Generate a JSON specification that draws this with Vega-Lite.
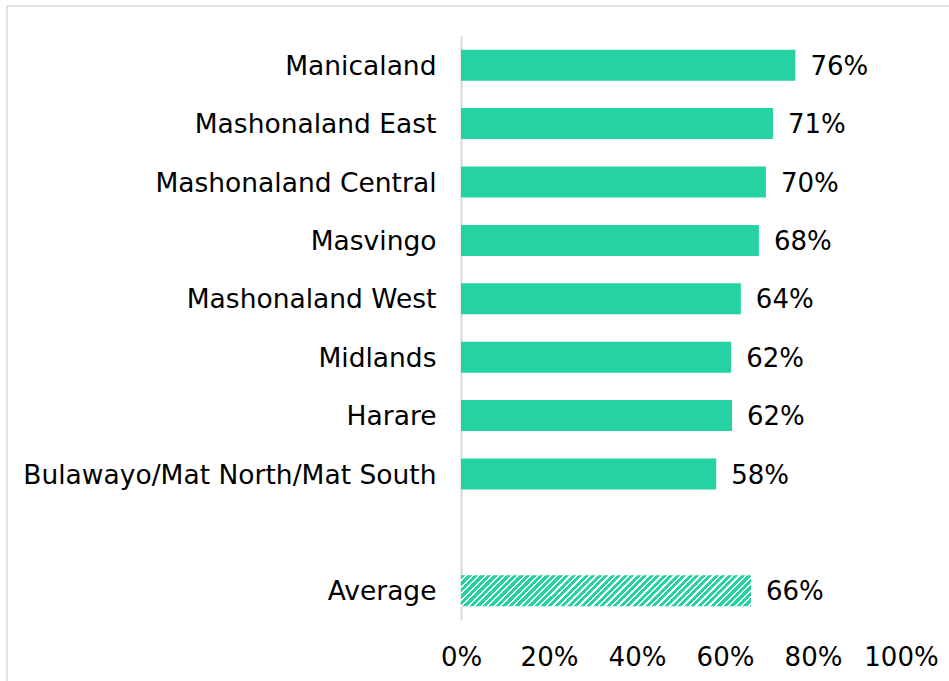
{
  "$schema": "https://vega.github.io/schema/vega-lite/v6.json",
  "width": 944,
  "height": 677,
  "autosize": "none",
  "padding": {"left": 7, "top": 6, "right": -2, "bottom": -2},
  "background": "white",
  "config": {
    "view": {"stroke": "#d9d9d9", "strokeWidth": 1.5},
    "font": "DejaVu Sans"
  },
  "data": {
    "values": [
      {"region": "Manicaland", "value": 0.76, "label": "76%"},
      {"region": "Mashonaland East", "value": 0.709, "label": "71%"},
      {"region": "Mashonaland Central", "value": 0.693, "label": "70%"},
      {"region": "Masvingo", "value": 0.677, "label": "68%"},
      {"region": "Mashonaland West", "value": 0.636, "label": "64%"},
      {"region": "Midlands", "value": 0.614, "label": "62%"},
      {"region": "Harare", "value": 0.616, "label": "62%"},
      {"region": "Bulawayo/Mat North/Mat South", "value": 0.58, "label": "58%"},
      {"region": "Average", "value": 0.659, "label": "66%"}
    ]
  },
  "encoding": {
    "y": {
      "field": "region",
      "type": "nominal",
      "scale": {
        "domain": ["Manicaland", "Mashonaland East", "Mashonaland Central", "Masvingo", "Mashonaland West", "Midlands", "Harare", "Bulawayo/Mat North/Mat South", " ", "Average"],
        "range": [30, 614],
        "paddingInner": 0.47,
        "paddingOuter": 0.235
      },
      "axis": {
        "title": null,
        "offset": -454,
        "ticks": false,
        "tickSize": 0,
        "labelPadding": 25,
        "labelFontSize": 26.5,
        "labelColor": "#000000",
        "labelBaseline": "alphabetic",
        "labelOffset": 9.5,
        "labelLimit": 600,
        "domainColor": "#d9d9d9",
        "domainWidth": 2
      }
    },
    "x": {
      "field": "value",
      "type": "quantitative",
      "scale": {"domain": [-1.031818, 1.113636], "nice": false, "zero": false},
      "axis": {
        "title": null,
        "values": [0, 0.2, 0.4, 0.6, 0.8, 1],
        "format": ".0%",
        "grid": false,
        "domain": false,
        "ticks": false,
        "tickSize": 0,
        "offset": -43,
        "labelPadding": 25,
        "labelBaseline": "alphabetic",
        "labelFontSize": 26,
        "labelColor": "#000000",
        "labelFlush": false
      }
    }
  },
  "layer": [
    {
      "transform": [{"filter": "datum.region != 'Average'"}],
      "mark": {"type": "bar", "color": "#25d2a1"},
      "encoding": {"x2": {"datum": 0}}
    },
    {
      "transform": [{"filter": "datum.region == 'Average'"}],
      "mark": {
        "type": "bar",
        "fill": {
          "gradient": "linear",
          "x1": 0, "y1": 0, "x2": 1.11, "y2": 0.1185,
          "stops": [
            {"offset": 0, "color": "#25d2a1"}, {"offset": 0.013, "color": "#25d2a1"}, {"offset": 0.013, "color": "#ffffff"}, {"offset": 0.02, "color": "#ffffff"},
            {"offset": 0.02, "color": "#25d2a1"}, {"offset": 0.033, "color": "#25d2a1"}, {"offset": 0.033, "color": "#ffffff"}, {"offset": 0.04, "color": "#ffffff"},
            {"offset": 0.04, "color": "#25d2a1"}, {"offset": 0.053, "color": "#25d2a1"}, {"offset": 0.053, "color": "#ffffff"}, {"offset": 0.06, "color": "#ffffff"},
            {"offset": 0.06, "color": "#25d2a1"}, {"offset": 0.073, "color": "#25d2a1"}, {"offset": 0.073, "color": "#ffffff"}, {"offset": 0.08, "color": "#ffffff"},
            {"offset": 0.08, "color": "#25d2a1"}, {"offset": 0.093, "color": "#25d2a1"}, {"offset": 0.093, "color": "#ffffff"}, {"offset": 0.1, "color": "#ffffff"},
            {"offset": 0.1, "color": "#25d2a1"}, {"offset": 0.113, "color": "#25d2a1"}, {"offset": 0.113, "color": "#ffffff"}, {"offset": 0.12, "color": "#ffffff"},
            {"offset": 0.12, "color": "#25d2a1"}, {"offset": 0.133, "color": "#25d2a1"}, {"offset": 0.133, "color": "#ffffff"}, {"offset": 0.14, "color": "#ffffff"},
            {"offset": 0.14, "color": "#25d2a1"}, {"offset": 0.153, "color": "#25d2a1"}, {"offset": 0.153, "color": "#ffffff"}, {"offset": 0.16, "color": "#ffffff"},
            {"offset": 0.16, "color": "#25d2a1"}, {"offset": 0.173, "color": "#25d2a1"}, {"offset": 0.173, "color": "#ffffff"}, {"offset": 0.18, "color": "#ffffff"},
            {"offset": 0.18, "color": "#25d2a1"}, {"offset": 0.193, "color": "#25d2a1"}, {"offset": 0.193, "color": "#ffffff"}, {"offset": 0.2, "color": "#ffffff"},
            {"offset": 0.2, "color": "#25d2a1"}, {"offset": 0.213, "color": "#25d2a1"}, {"offset": 0.213, "color": "#ffffff"}, {"offset": 0.22, "color": "#ffffff"},
            {"offset": 0.22, "color": "#25d2a1"}, {"offset": 0.233, "color": "#25d2a1"}, {"offset": 0.233, "color": "#ffffff"}, {"offset": 0.24, "color": "#ffffff"},
            {"offset": 0.24, "color": "#25d2a1"}, {"offset": 0.253, "color": "#25d2a1"}, {"offset": 0.253, "color": "#ffffff"}, {"offset": 0.26, "color": "#ffffff"},
            {"offset": 0.26, "color": "#25d2a1"}, {"offset": 0.273, "color": "#25d2a1"}, {"offset": 0.273, "color": "#ffffff"}, {"offset": 0.28, "color": "#ffffff"},
            {"offset": 0.28, "color": "#25d2a1"}, {"offset": 0.293, "color": "#25d2a1"}, {"offset": 0.293, "color": "#ffffff"}, {"offset": 0.3, "color": "#ffffff"},
            {"offset": 0.3, "color": "#25d2a1"}, {"offset": 0.313, "color": "#25d2a1"}, {"offset": 0.313, "color": "#ffffff"}, {"offset": 0.32, "color": "#ffffff"},
            {"offset": 0.32, "color": "#25d2a1"}, {"offset": 0.333, "color": "#25d2a1"}, {"offset": 0.333, "color": "#ffffff"}, {"offset": 0.34, "color": "#ffffff"},
            {"offset": 0.34, "color": "#25d2a1"}, {"offset": 0.353, "color": "#25d2a1"}, {"offset": 0.353, "color": "#ffffff"}, {"offset": 0.36, "color": "#ffffff"},
            {"offset": 0.36, "color": "#25d2a1"}, {"offset": 0.373, "color": "#25d2a1"}, {"offset": 0.373, "color": "#ffffff"}, {"offset": 0.38, "color": "#ffffff"},
            {"offset": 0.38, "color": "#25d2a1"}, {"offset": 0.393, "color": "#25d2a1"}, {"offset": 0.393, "color": "#ffffff"}, {"offset": 0.4, "color": "#ffffff"},
            {"offset": 0.4, "color": "#25d2a1"}, {"offset": 0.413, "color": "#25d2a1"}, {"offset": 0.413, "color": "#ffffff"}, {"offset": 0.42, "color": "#ffffff"},
            {"offset": 0.42, "color": "#25d2a1"}, {"offset": 0.433, "color": "#25d2a1"}, {"offset": 0.433, "color": "#ffffff"}, {"offset": 0.44, "color": "#ffffff"},
            {"offset": 0.44, "color": "#25d2a1"}, {"offset": 0.453, "color": "#25d2a1"}, {"offset": 0.453, "color": "#ffffff"}, {"offset": 0.46, "color": "#ffffff"},
            {"offset": 0.46, "color": "#25d2a1"}, {"offset": 0.473, "color": "#25d2a1"}, {"offset": 0.473, "color": "#ffffff"}, {"offset": 0.48, "color": "#ffffff"},
            {"offset": 0.48, "color": "#25d2a1"}, {"offset": 0.493, "color": "#25d2a1"}, {"offset": 0.493, "color": "#ffffff"}, {"offset": 0.5, "color": "#ffffff"},
            {"offset": 0.5, "color": "#25d2a1"}, {"offset": 0.513, "color": "#25d2a1"}, {"offset": 0.513, "color": "#ffffff"}, {"offset": 0.52, "color": "#ffffff"},
            {"offset": 0.52, "color": "#25d2a1"}, {"offset": 0.533, "color": "#25d2a1"}, {"offset": 0.533, "color": "#ffffff"}, {"offset": 0.54, "color": "#ffffff"},
            {"offset": 0.54, "color": "#25d2a1"}, {"offset": 0.553, "color": "#25d2a1"}, {"offset": 0.553, "color": "#ffffff"}, {"offset": 0.56, "color": "#ffffff"},
            {"offset": 0.56, "color": "#25d2a1"}, {"offset": 0.573, "color": "#25d2a1"}, {"offset": 0.573, "color": "#ffffff"}, {"offset": 0.58, "color": "#ffffff"},
            {"offset": 0.58, "color": "#25d2a1"}, {"offset": 0.593, "color": "#25d2a1"}, {"offset": 0.593, "color": "#ffffff"}, {"offset": 0.6, "color": "#ffffff"},
            {"offset": 0.6, "color": "#25d2a1"}, {"offset": 0.613, "color": "#25d2a1"}, {"offset": 0.613, "color": "#ffffff"}, {"offset": 0.62, "color": "#ffffff"},
            {"offset": 0.62, "color": "#25d2a1"}, {"offset": 0.633, "color": "#25d2a1"}, {"offset": 0.633, "color": "#ffffff"}, {"offset": 0.64, "color": "#ffffff"},
            {"offset": 0.64, "color": "#25d2a1"}, {"offset": 0.653, "color": "#25d2a1"}, {"offset": 0.653, "color": "#ffffff"}, {"offset": 0.66, "color": "#ffffff"},
            {"offset": 0.66, "color": "#25d2a1"}, {"offset": 0.673, "color": "#25d2a1"}, {"offset": 0.673, "color": "#ffffff"}, {"offset": 0.68, "color": "#ffffff"},
            {"offset": 0.68, "color": "#25d2a1"}, {"offset": 0.693, "color": "#25d2a1"}, {"offset": 0.693, "color": "#ffffff"}, {"offset": 0.7, "color": "#ffffff"},
            {"offset": 0.7, "color": "#25d2a1"}, {"offset": 0.713, "color": "#25d2a1"}, {"offset": 0.713, "color": "#ffffff"}, {"offset": 0.72, "color": "#ffffff"},
            {"offset": 0.72, "color": "#25d2a1"}, {"offset": 0.733, "color": "#25d2a1"}, {"offset": 0.733, "color": "#ffffff"}, {"offset": 0.74, "color": "#ffffff"},
            {"offset": 0.74, "color": "#25d2a1"}, {"offset": 0.753, "color": "#25d2a1"}, {"offset": 0.753, "color": "#ffffff"}, {"offset": 0.76, "color": "#ffffff"},
            {"offset": 0.76, "color": "#25d2a1"}, {"offset": 0.773, "color": "#25d2a1"}, {"offset": 0.773, "color": "#ffffff"}, {"offset": 0.78, "color": "#ffffff"},
            {"offset": 0.78, "color": "#25d2a1"}, {"offset": 0.793, "color": "#25d2a1"}, {"offset": 0.793, "color": "#ffffff"}, {"offset": 0.8, "color": "#ffffff"},
            {"offset": 0.8, "color": "#25d2a1"}, {"offset": 0.813, "color": "#25d2a1"}, {"offset": 0.813, "color": "#ffffff"}, {"offset": 0.82, "color": "#ffffff"},
            {"offset": 0.82, "color": "#25d2a1"}, {"offset": 0.833, "color": "#25d2a1"}, {"offset": 0.833, "color": "#ffffff"}, {"offset": 0.84, "color": "#ffffff"},
            {"offset": 0.84, "color": "#25d2a1"}, {"offset": 0.853, "color": "#25d2a1"}, {"offset": 0.853, "color": "#ffffff"}, {"offset": 0.86, "color": "#ffffff"},
            {"offset": 0.86, "color": "#25d2a1"}, {"offset": 0.873, "color": "#25d2a1"}, {"offset": 0.873, "color": "#ffffff"}, {"offset": 0.88, "color": "#ffffff"},
            {"offset": 0.88, "color": "#25d2a1"}, {"offset": 0.893, "color": "#25d2a1"}, {"offset": 0.893, "color": "#ffffff"}, {"offset": 0.9, "color": "#ffffff"},
            {"offset": 0.9, "color": "#25d2a1"}, {"offset": 0.913, "color": "#25d2a1"}, {"offset": 0.913, "color": "#ffffff"}, {"offset": 0.92, "color": "#ffffff"},
            {"offset": 0.92, "color": "#25d2a1"}, {"offset": 0.933, "color": "#25d2a1"}, {"offset": 0.933, "color": "#ffffff"}, {"offset": 0.94, "color": "#ffffff"},
            {"offset": 0.94, "color": "#25d2a1"}, {"offset": 0.953, "color": "#25d2a1"}, {"offset": 0.953, "color": "#ffffff"}, {"offset": 0.96, "color": "#ffffff"},
            {"offset": 0.96, "color": "#25d2a1"}, {"offset": 0.973, "color": "#25d2a1"}, {"offset": 0.973, "color": "#ffffff"}, {"offset": 0.98, "color": "#ffffff"},
            {"offset": 0.98, "color": "#25d2a1"}, {"offset": 0.993, "color": "#25d2a1"}, {"offset": 0.993, "color": "#ffffff"}, {"offset": 1, "color": "#ffffff"}
          ]
        }
      },
      "encoding": {"x2": {"datum": 0}}
    },
    {
      "mark": {"type": "text", "align": "left", "baseline": "alphabetic", "dx": 15, "dy": 9.5, "fontSize": 26, "color": "#000000"},
      "encoding": {"text": {"field": "label"}}
    }
  ]
}
